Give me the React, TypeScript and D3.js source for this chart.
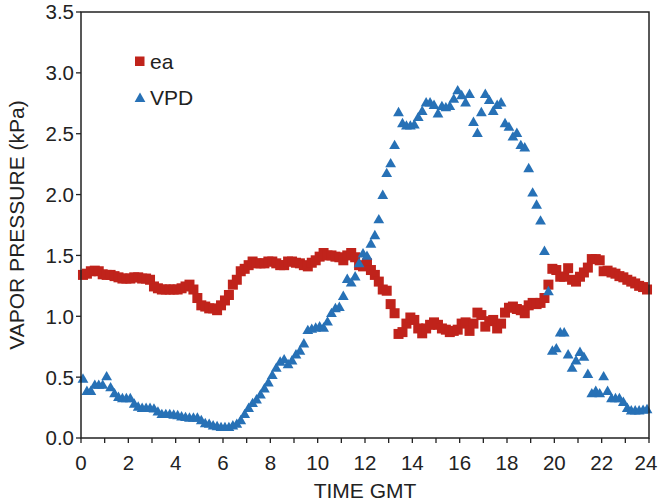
import React from "react";
import * as d3 from "d3";

const STEP_HOURS = 1 / 6;
const FIRST_HOUR = 1 / 12;

const eaValues = [
  1.34, 1.35, 1.37, 1.375, 1.37, 1.345, 1.34, 1.34, 1.33, 1.32, 1.31, 1.31,
  1.31, 1.32, 1.32, 1.31, 1.31, 1.3, 1.245, 1.23, 1.22, 1.22, 1.22, 1.22,
  1.22, 1.23, 1.245, 1.26, 1.22, 1.15, 1.09, 1.08, 1.065, 1.065, 1.05, 1.09,
  1.13, 1.175, 1.26, 1.3, 1.37, 1.39, 1.42, 1.45, 1.435, 1.435, 1.435, 1.45,
  1.45, 1.435, 1.42, 1.42, 1.45, 1.45, 1.44, 1.435, 1.42, 1.41, 1.44, 1.46,
  1.49, 1.52, 1.5, 1.5, 1.49, 1.485, 1.46, 1.5, 1.52, 1.485, 1.42, 1.41,
  1.435, 1.38, 1.34, 1.285, 1.22, 1.21, 1.1, 1.025, 0.855, 0.87, 0.94, 0.99,
  0.97, 0.9, 0.86, 0.9, 0.93, 0.95, 0.93, 0.9, 0.89, 0.87, 0.88, 0.89,
  0.94, 0.95, 0.88, 0.94, 1.03, 1.01, 0.915, 0.96, 0.97, 0.9, 0.94, 1.03,
  1.07, 1.08, 1.06, 1.05, 1.025, 1.09, 1.11, 1.1, 1.11, 1.15, 1.26, 1.39,
  1.38, 1.325, 1.325, 1.395, 1.3, 1.285, 1.325, 1.36, 1.4, 1.47, 1.47, 1.46,
  1.37, 1.375, 1.36, 1.35, 1.33, 1.32, 1.3, 1.285, 1.27, 1.25, 1.24, 1.22,
];

const vpdValues = [
  0.49, 0.39, 0.39, 0.44, 0.44, 0.44, 0.51, 0.42, 0.37, 0.34, 0.33, 0.33,
  0.33, 0.285, 0.26, 0.25, 0.25, 0.25, 0.245, 0.22, 0.2, 0.2, 0.2, 0.195,
  0.19, 0.18, 0.175, 0.17, 0.17, 0.17, 0.15, 0.125, 0.12, 0.107, 0.1, 0.093,
  0.093, 0.093, 0.107, 0.12, 0.15, 0.2, 0.25, 0.29, 0.32, 0.36, 0.41, 0.46,
  0.52, 0.58, 0.63, 0.65, 0.61, 0.64, 0.69, 0.72, 0.78, 0.89, 0.9, 0.91,
  0.92, 0.91, 0.96, 1.03, 1.07, 1.08, 1.17, 1.31, 1.28, 1.33, 1.44, 1.52,
  1.5, 1.6, 1.67, 1.8, 2.0, 2.18, 2.26, 2.41, 2.68, 2.59, 2.57, 2.57,
  2.58, 2.64, 2.69, 2.76, 2.76, 2.74, 2.67, 2.73, 2.72, 2.73, 2.79, 2.86,
  2.82, 2.76, 2.83, 2.6, 2.51, 2.68, 2.83, 2.78, 2.69, 2.74, 2.76, 2.59,
  2.56, 2.48, 2.51, 2.41, 2.39, 2.22, 2.02, 1.92, 1.79, 1.54, 1.21, 0.72,
  0.74, 0.87, 0.87, 0.69, 0.58, 0.64, 0.71, 0.67, 0.53, 0.37, 0.39, 0.37,
  0.51, 0.39, 0.33, 0.33, 0.33, 0.3, 0.25, 0.23, 0.23, 0.23, 0.235, 0.24,
];

const xTickValues = d3.range(0, 25, 1);
const xTickLabels = d3.range(0, 25, 2);
const yTickValues = [0, 0.5, 1.0, 1.5, 2.0, 2.5, 3.0, 3.5];

const legendLabels = ["ea", "VPD"];

const RED = "#c0231b";
const BLUE = "#2771b6";
const INK = "#222";
const FONT = "'Liberation Sans', Arial, Helvetica, sans-serif";

export default function App() {
  const W = 659;
  const H = 504;
  const x = d3.scaleLinear().domain([0, 24]).range([81, 649]);
  const y = d3.scaleLinear().domain([0, 3.5]).range([438, 12]);
  const hour = (i: number) => FIRST_HOUR + i * STEP_HOURS;

  const tri = "M0,-5L5.4,4.4L-5.4,4.4Z";
  const sq = 10;

  return (
    <svg
      width={W}
      height={H}
      style={{ position: "absolute", left: 0, top: 0, background: "#fff" }}
      fontFamily={FONT}
    >
      <rect x={0} y={0} width={W} height={H} fill="#fff" />
      <g fill={RED}>
        {eaValues.map((v, i) => (
          <rect
            key={"e" + i}
            x={x(hour(i)) - sq / 2}
            y={y(v) - sq / 2}
            width={sq}
            height={sq}
          />
        ))}
      </g>
      <g fill={BLUE}>
        {vpdValues.map((v, i) => (
          <path
            key={"v" + i}
            d={tri}
            transform={`translate(${x(hour(i))},${y(v)})`}
          />
        ))}
      </g>
      <rect
        x={x(0)}
        y={y(3.5)}
        width={x(24) - x(0)}
        height={y(0) - y(3.5)}
        fill="none"
        stroke={INK}
        strokeWidth={1.5}
      />
      <g stroke={INK} strokeWidth={1.3}>
        {xTickValues.map((t) => (
          <line key={"xt" + t} x1={x(t)} x2={x(t)} y1={y(0)} y2={y(0) + 5} />
        ))}
        {yTickValues.map((t) => (
          <line key={"yt" + t} x1={x(0) - 5} x2={x(0)} y1={y(t)} y2={y(t)} />
        ))}
      </g>
      <g fill={INK} fontSize={20.5}>
        {xTickLabels.map((t) => (
          <text
            key={"xl" + t}
            x={Math.min(x(t), W - 13)}
            y={470}
            textAnchor="middle"
          >
            {t}
          </text>
        ))}
        {yTickValues.map((t) => (
          <text
            key={"yl" + t}
            x={74}
            y={y(t)}
            dy="0.36em"
            textAnchor="end"
          >
            {t.toFixed(1)}
          </text>
        ))}
      </g>
      <text
        x={x(12)}
        y={498}
        textAnchor="middle"
        fontSize={21}
        fill={INK}
      >
        TIME GMT
      </text>
      <text
        transform={`translate(24,${(y(0) + y(3.5)) / 2}) rotate(-90)`}
        textAnchor="middle"
        fontSize={21}
        fill={INK}
      >
        VAPOR PRESSURE (kPa)
      </text>
      <rect x={135} y={56.5} width={9.5} height={9.5} fill={RED} />
      <text x={150} y={69} fontSize={21} fill={INK}>
        {legendLabels[0]}
      </text>
      <path d={tri} transform="translate(140,97.5)" fill={BLUE} />
      <text x={150} y={105} fontSize={21} fill={INK}>
        {legendLabels[1]}
      </text>
    </svg>
  );
}
